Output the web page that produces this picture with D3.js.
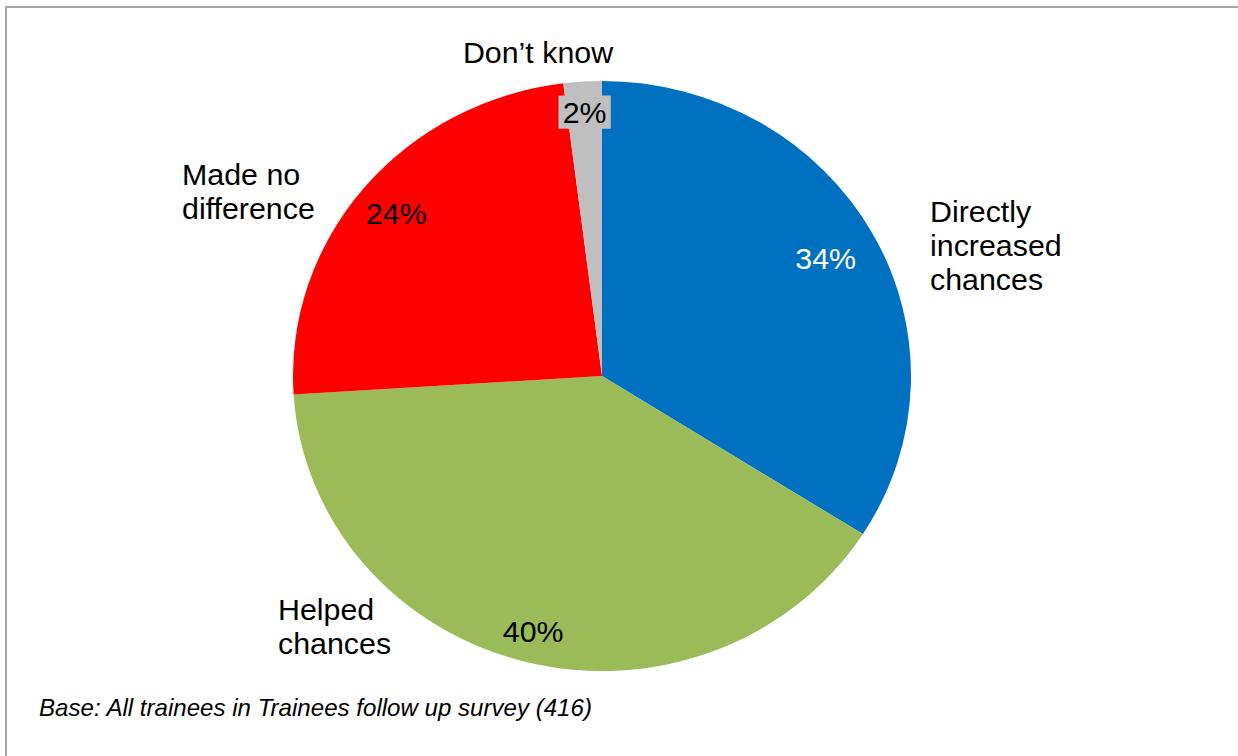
<!DOCTYPE html>
<html>
<head>
<meta charset="utf-8">
<script src="https://cdn.jsdelivr.net/npm/d3@7"></script>
<style>
  html, body { margin: 0; padding: 0; background: #fff; }
  svg { display: block; font-family: "Liberation Sans", Arial, sans-serif; }
</style>
</head>
<body>
<svg id="chart" width="1238" height="756"></svg>
<script>
// ---- data ----
const categories = ["Directly increased chances", "Helped chances", "Made no difference", "Don’t know"];
const values = [34, 40, 24, 2];
const valueLabels = ["34%", "40%", "24%", "2%"];
const colors = ["#0070C0", "#9BBB59", "#FF0000", "#BFBFBF"];
const labelLines = [["Directly", "increased", "chances"], ["Helped", "chances"], ["Made no", "difference"], ["Don’t know"]];
const footnote = "Base: All trainees in Trainees follow up survey (416)";

// ---- layout ----
const W = 1238, H = 756;
const cx = 602, cy = 376, r = 295, sx = 1.0475;
const fontSize = 29, lineH = 34;
const valueRadius = [0.826, 0.896, 0.864, 0.895];
const valueColor = ["#ffffff", "#000000", "#000000", "#000000"];
const catLayout = [
  { x: 930, y: 222, anchor: "start" },
  { x: 278, y: 620, anchor: "start" },
  { x: 182, y: 185, anchor: "start" },
  { x: 538, y: 63, anchor: "middle" }
];

const svg = d3.select("#chart");

// frame
svg.append("path")
  .attr("d", `M6,${H} L6,7 L${W},7`)
  .attr("fill", "none").attr("stroke", "#a6a6a6").attr("stroke-width", 2);

// pie (elliptical via horizontal scale)
const g = svg.append("g").attr("transform", `translate(${cx},${cy}) scale(${sx},1)`);
const pie = d3.pie().sort(null).value(d => d)(values);
const arc = d3.arc().innerRadius(0).outerRadius(r);

g.selectAll("path.slice").data(pie).enter().append("path")
  .attr("class", "slice")
  .attr("d", arc)
  .attr("fill", (d, i) => colors[i]);

// value labels
pie.forEach((d, i) => {
  const a = (d.startAngle + d.endAngle) / 2;
  const rr = r * valueRadius[i];
  const x = Math.sin(a) * rr, y = -Math.cos(a) * rr;
  const lg = g.append("g").attr("transform", `translate(${x},${y})`);
  const t = lg.append("text")
    .attr("text-anchor", "middle")
    .attr("y", fontSize * 0.358)
    .attr("font-size", fontSize)
    .attr("fill", valueColor[i])
    .text(valueLabels[i]);
  if (i === 3) {
    const bb = t.node().getBBox();
    lg.insert("rect", "text")
      .attr("x", bb.x - 4).attr("y", bb.y - 1)
      .attr("width", bb.width + 8).attr("height", bb.height + 1)
      .attr("fill", colors[i]);
  }
});

// category labels
labelLines.forEach((lines, i) => {
  const L = catLayout[i];
  const lg = svg.append("g").attr("transform", `translate(${L.x},${L.y}) scale(${sx},1)`);
  const t = lg.append("text").attr("text-anchor", L.anchor).attr("font-size", fontSize).attr("fill", "#000");
  lines.forEach((s, k) => t.append("tspan").attr("x", 0).attr("y", k * lineH).text(s));
});

// footnote
svg.append("g").attr("transform", `translate(39,716) scale(${sx},1)`)
  .append("text")
  .attr("font-size", 23).attr("font-style", "italic").attr("fill", "#000")
  .text(footnote);
</script>
</body>
</html>
